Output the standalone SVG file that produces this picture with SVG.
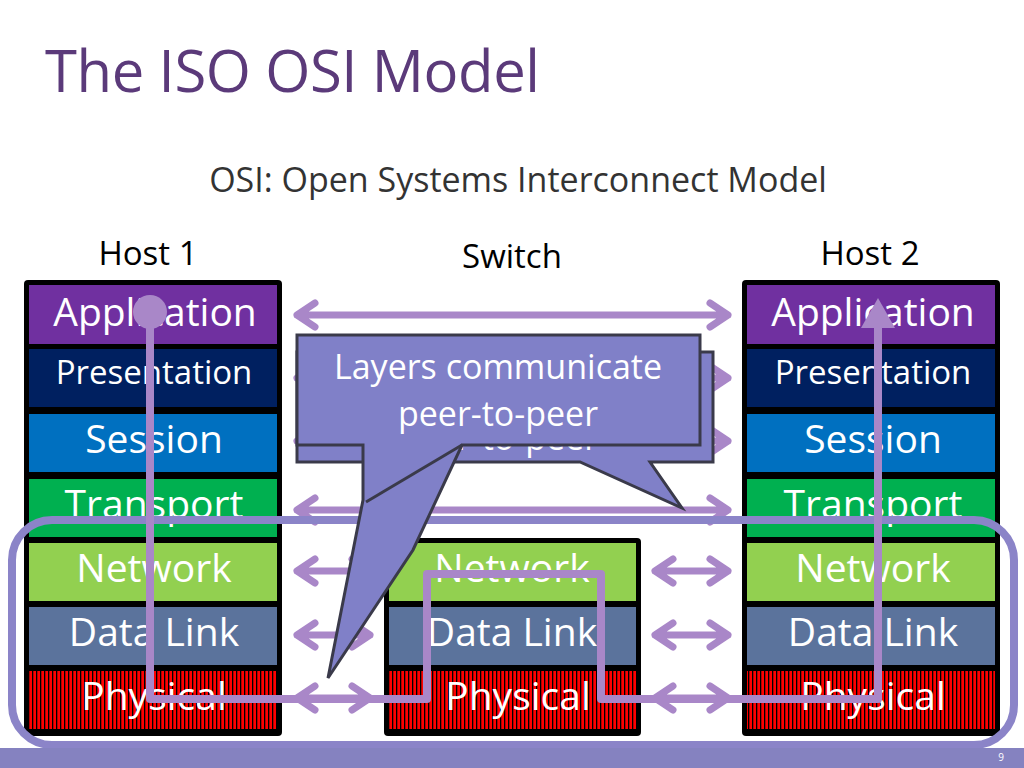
<svg xmlns="http://www.w3.org/2000/svg" width="1024" height="768" viewBox="0 0 1024 768">
<style>
text{font-family:"Open Sans","Liberation Sans",sans-serif}
.lt{fill:#fff;font-size:39px;text-anchor:middle}
.sm{fill:#fff;font-size:33px;text-anchor:middle}
.hd{fill:#000;font-size:33px;text-anchor:middle}
.ar{stroke:#A987C8;stroke-width:7;fill:none;stroke-linecap:round;stroke-linejoin:round}
.cb{fill:#8080C8;stroke:#3a3a4a;stroke-width:3}
.ct{font-size:34px;fill:#fff;text-anchor:middle}
</style>
<defs>
<pattern id="st" width="4" height="10" patternUnits="userSpaceOnUse"><rect width="4" height="10" fill="#ff0000"/><rect width="1.3" height="10" fill="#000"/></pattern>
</defs>
<rect width="1024" height="768" fill="#fff"/>
<text x="45" y="92" font-size="58" fill="#5B3A7A" textLength="495">The ISO OSI Model</text>
<text x="518" y="192" font-size="34" fill="#333" text-anchor="middle">OSI: Open Systems Interconnect Model</text>
<text x="148" y="265" class="hd">Host 1</text>
<text x="512" y="268" class="hd">Switch</text>
<text x="870" y="265" class="hd">Host 2</text>
<g id="host1">
<rect x="24" y="280" width="258" height="456" fill="#000" rx="4"/>
<rect x="29" y="285" width="248" height="59" fill="#7030A0"/><text x="155" y="326" class="lt">Application</text>
<rect x="29" y="349" width="248" height="58" fill="#002060"/><text x="154" y="384" class="sm">Presentation</text>
<rect x="29" y="414" width="248" height="58" fill="#0070C0"/><text x="154" y="453" class="lt">Session</text>
<rect x="29" y="479" width="248" height="58" fill="#00B050"/><text x="154" y="518" class="lt">Transport</text>
<rect x="29" y="543" width="248" height="58" fill="#92D050"/><text x="154" y="582" class="lt">Network</text>
<rect x="29" y="607" width="248" height="58" fill="#5B739C"/><text x="154" y="646" class="lt">Data Link</text>
<rect x="29" y="671" width="248" height="58" fill="url(#st)"/><text x="154" y="710" class="lt">Physical</text>
</g>
<g id="switch">
<rect x="384" y="538" width="257" height="198" fill="#000" rx="4"/>
<rect x="389" y="543" width="247" height="58" fill="#92D050"/><text x="512" y="582" class="lt">Network</text>
<rect x="389" y="607" width="247" height="58" fill="#5B739C"/><text x="512" y="646" class="lt">Data Link</text>
<rect x="389" y="671" width="247" height="58" fill="url(#st)"/><text x="518" y="710" class="lt">Physical</text>
</g>
<g id="host2">
<rect x="742" y="280" width="258" height="456" fill="#000" rx="4"/>
<rect x="747" y="285" width="248" height="59" fill="#7030A0"/><text x="873" y="326" class="lt">Application</text>
<rect x="747" y="349" width="248" height="58" fill="#002060"/><text x="873" y="384" class="sm">Presentation</text>
<rect x="747" y="414" width="248" height="58" fill="#0070C0"/><text x="873" y="453" class="lt">Session</text>
<rect x="747" y="479" width="248" height="58" fill="#00B050"/><text x="873" y="518" class="lt">Transport</text>
<rect x="747" y="543" width="248" height="58" fill="#92D050"/><text x="873" y="582" class="lt">Network</text>
<rect x="747" y="607" width="248" height="58" fill="#5B739C"/><text x="873" y="646" class="lt">Data Link</text>
<rect x="747" y="671" width="248" height="58" fill="url(#st)"/><text x="873" y="710" class="lt">Physical</text>
</g>
<g id="connectors">
<path class="ar" d="M297,315H728M315,303L297,315L315,327M710,303L728,315L710,327"/>
<path class="ar" d="M297,378H728M315,366L297,378L315,390M710,366L728,378L710,390"/>
<path class="ar" d="M297,441H728M315,429L297,441L315,453M710,429L728,441L710,453"/>
<path class="ar" d="M297,510H728M315,498L297,510L315,522M710,498L728,510L710,522"/>
<path class="ar" d="M297,571H370M315,559L297,571L315,583M352,559L370,571L352,583"/>
<path class="ar" d="M655,571H728M673,559L655,571L673,583M710,559L728,571L710,583"/>
<path class="ar" d="M297,635H370M315,623L297,635L315,647M352,623L370,635L352,647"/>
<path class="ar" d="M655,635H728M673,623L655,635L673,647M710,623L728,635L710,647"/>
<path class="ar" d="M297,698H370M315,686L297,698L315,710M352,686L370,698L352,710"/>
<path class="ar" d="M655,698H728M673,686L655,698L673,710M710,686L728,698L710,710"/>
</g>
<rect x="12" y="520" width="1002" height="225" rx="40" fill="none" stroke="#8B84C8" stroke-width="8"/>
<rect x="0" y="748" width="1024" height="20" fill="#8582C0"/>
<text x="1001" y="761" font-size="10" fill="#fff" text-anchor="middle">9</text>
<g id="path">
<path d="M150,312V699H427V574H601V699H878V315" fill="none" stroke="#A987C8" stroke-width="8" stroke-linejoin="round"/>
<circle cx="150" cy="312" r="17" fill="#A987C8"/>
<path d="M861,328L878,298L895,328Z" fill="#A987C8"/>
</g>
<g id="callout-back">
<path class="cb" d="M297,352H713V462H650L682,508L580,462H297Z"/>
<text x="498" y="400" class="ct">Layers communicate</text>
<text x="498" y="450" class="ct">peer-to-peer</text>
</g>
<g id="callout-front">
<path class="cb" d="M297,335H700V445H462L413,550L328,678L363,500V445H297Z"/>
<path d="M366,502L462,445" fill="none" stroke="#3a3a4a" stroke-width="3"/>
<text x="498" y="379" class="ct">Layers communicate</text>
<text x="498" y="426" class="ct">peer-to-peer</text>
</g>
</svg>
